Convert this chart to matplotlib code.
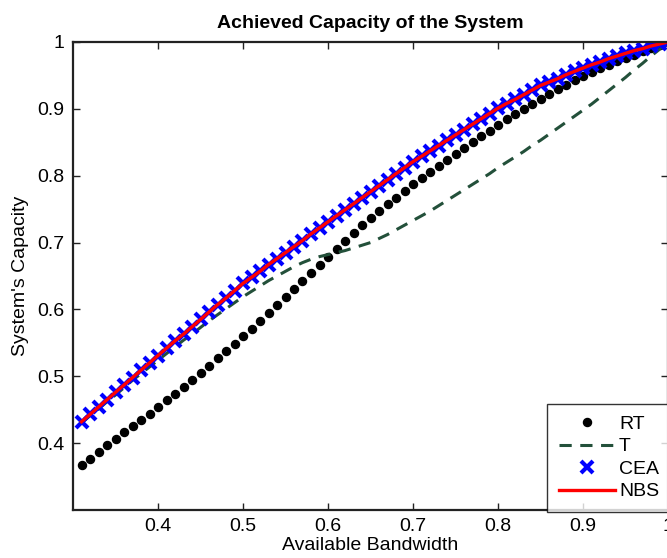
import matplotlib
matplotlib.use("Agg")
import matplotlib.pyplot as plt
import numpy as np

plt.rcParams['font.family'] = ['Liberation Sans', 'DejaVu Sans']

# available bandwidth, 0.31 .. 1.00 in steps of 0.01
bandwidth = np.round(np.arange(31, 101) / 100.0, 2)

rt = [0.367, 0.377, 0.387, 0.397, 0.406, 0.416, 0.425, 0.435, 0.444, 0.454,
      0.464, 0.474, 0.484, 0.495, 0.505, 0.516, 0.527, 0.538, 0.549, 0.560,
      0.571, 0.582, 0.594, 0.606, 0.618, 0.630, 0.643, 0.655, 0.667, 0.679,
      0.691, 0.703, 0.715, 0.726, 0.737, 0.747, 0.757, 0.767, 0.777, 0.787,
      0.796, 0.805, 0.814, 0.823, 0.832, 0.841, 0.850, 0.859, 0.867, 0.876,
      0.885, 0.893, 0.900, 0.908, 0.915, 0.922, 0.929, 0.936, 0.943, 0.949,
      0.955, 0.961, 0.966, 0.971, 0.976, 0.981, 0.986, 0.991, 0.995, 1.000]

t = [0.430, 0.441, 0.451, 0.462, 0.472, 0.483, 0.494, 0.504, 0.514, 0.524,
     0.534, 0.544, 0.554, 0.563, 0.573, 0.583, 0.592, 0.601, 0.610, 0.619,
     0.627, 0.635, 0.643, 0.650, 0.657, 0.664, 0.670, 0.675, 0.679, 0.682,
     0.685, 0.688, 0.692, 0.696, 0.700, 0.706, 0.712, 0.719, 0.726, 0.733,
     0.740, 0.747, 0.755, 0.763, 0.771, 0.779, 0.787, 0.795, 0.803, 0.812,
     0.820, 0.828, 0.836, 0.845, 0.853, 0.862, 0.871, 0.880, 0.889, 0.898,
     0.907, 0.917, 0.927, 0.937, 0.947, 0.958, 0.968, 0.979, 0.989, 1.000]

nbs = [0.432, 0.443, 0.454, 0.465, 0.476, 0.487, 0.498, 0.509, 0.520, 0.531,
       0.542, 0.553, 0.563, 0.574, 0.585, 0.596, 0.607, 0.617, 0.628, 0.639,
       0.648, 0.657, 0.667, 0.676, 0.685, 0.694, 0.703, 0.713, 0.722, 0.731,
       0.740, 0.749, 0.758, 0.767, 0.776, 0.785, 0.794, 0.803, 0.812, 0.821,
       0.829, 0.837, 0.845, 0.853, 0.861, 0.869, 0.877, 0.885, 0.893, 0.901,
       0.908, 0.914, 0.921, 0.928, 0.935, 0.940, 0.945, 0.951, 0.956, 0.961,
       0.966, 0.970, 0.975, 0.979, 0.983, 0.987, 0.990, 0.994, 0.997, 1.000]

# CEA lies on top of NBS
cea = list(nbs)

xticks = [0.4, 0.5, 0.6, 0.7, 0.8, 0.9, 1.0]
xticklabels = ['0.4', '0.5', '0.6', '0.7', '0.8', '0.9', '1']
yticks = [0.4, 0.5, 0.6, 0.7, 0.8, 0.9, 1.0]
yticklabels = ['0.4', '0.5', '0.6', '0.7', '0.8', '0.9', '1']

fig = plt.figure(figsize=(6.67, 5.58), dpi=100)
ax = fig.add_axes([73 / 667, 48 / 558, 595 / 667, 468 / 558])

ax.plot(bandwidth, rt, 'o', color='black', markersize=5.8, label='RT')
ax.plot(bandwidth, t, '--', color='#23503a', linewidth=2.2, dashes=(4, 2.8), label='T')
ax.plot(bandwidth, cea, 'x', color='#0000ff', markersize=9, markeredgewidth=3,
        linestyle='none', label='CEA')
ax.plot(bandwidth, nbs, '-', color='#ff0000', linewidth=2.4, label='NBS')

ax.set_xlim(0.3, 1.0)
ax.set_ylim(0.3, 1.0)
ax.set_xticks(xticks)
ax.set_xticklabels(xticklabels)
ax.set_yticks(yticks)
ax.set_yticklabels(yticklabels)
ax.tick_params(direction='in', length=5, width=1, top=True, right=True,
               labelsize=14, pad=6, colors='#222222', labelcolor='black')
for s in ax.spines.values():
    s.set_linewidth(1.6)
    s.set_color('#222222')

ax.set_title("Achieved Capacity of the System", fontsize=14, fontweight='bold', pad=10)
ax.set_xlabel("Available Bandwidth", fontsize=14, labelpad=1)
ax.set_ylabel("System's Capacity", fontsize=14, labelpad=6)

leg = ax.legend(loc='lower left', bbox_to_anchor=(547 / 667, 46 / 558),
                bbox_transform=fig.transFigure, fontsize=14, frameon=True,
                fancybox=False, borderaxespad=0, handlelength=2.9,
                handletextpad=0.2, labelspacing=0.25, borderpad=0.6)
leg.get_frame().set_edgecolor('black')
leg.get_frame().set_linewidth(1.0)

fig.savefig('out.png', dpi=100)
